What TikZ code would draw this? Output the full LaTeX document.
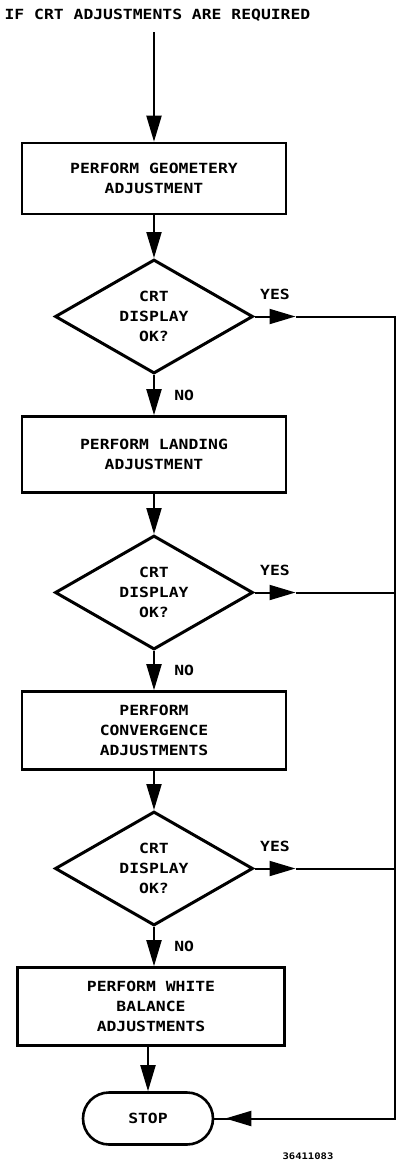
\documentclass[tikz,border=0pt]{standalone}
\usepackage{fontspec}
\setmainfont{DejaVu Sans Mono}[FakeStretch=1.17]
\usetikzlibrary{shapes.geometric,arrows.meta,positioning,calc}

\begin{document}
\begin{tikzpicture}[x=1pt, y=1pt, >={Triangle[length=26pt,width=15pt]}, semithick, node distance=138pt,
  font=\bfseries\fontsize{14}{20}\selectfont]
\tikzstyle{process}=[draw, line width=2.6pt, minimum width=264pt, minimum height=78pt, align=center, inner sep=0pt]
\tikzstyle{decision}=[diamond, draw, line width=3pt, minimum width=198pt, minimum height=114pt, aspect=1.74, align=center, inner sep=0pt]
\tikzstyle{terminal}=[draw, line width=2.6pt, rounded corners=26pt, minimum width=130pt, minimum height=52pt]
\tikzstyle{flowarrow}=[->, line width=2pt]
\tikzstyle{wire}=[line width=2pt]

\useasboundingbox (0,0) rectangle (396,-1163);
\node[anchor=west] (title) at (1,-15) {IF CRT ADJUSTMENTS ARE REQUIRED};
\coordinate (in) at (154,-32);
\coordinate (rt) at (394.5,0);

\node[process, minimum height=71pt] (geo) at (154,-178.5) {PERFORM GEOMETERY\\ADJUSTMENT};
\node[decision] (ok1) [below of=geo]  {CRT\\DISPLAY\\OK?};
\node[process, minimum height=76pt] (land) [below of=ok1] {PERFORM LANDING\\ADJUSTMENT};
\node[decision] (ok2) [below of=land] {CRT\\DISPLAY\\OK?};
\node[process] (conv) [below of=ok2]  {PERFORM\\CONVERGENCE\\ADJUSTMENTS};
\node[decision] (ok3) [below of=conv] {CRT\\DISPLAY\\OK?};
\node[process, minimum width=267pt, xshift=-3pt] (white) [below of=ok3] {PERFORM WHITE\\BALANCE\\ADJUSTMENTS};
\node[terminal, xshift=-3pt, node distance=112pt] (stop) [below of=white] {STOP};

\coordinate (yes1) at ($(ok1.east)+(41,0)$);
\coordinate (yes2) at ($(ok2.east)+(41,0)$);
\coordinate (yes3) at ($(ok3.east)+(41,0)$);
\coordinate (back) at ($(stop.east)+(38,0)$);

\draw[flowarrow] (in) -- (geo.north);
\draw[flowarrow] (geo.south) -- (ok1.north);
\draw[flowarrow] (ok1.south) -- node[right=16pt] {NO} (land.north);
\draw[flowarrow] (land.south) -- (ok2.north);
\draw[flowarrow] (ok2.south) -- node[right=16pt] {NO} (conv.north);
\draw[flowarrow] (conv.south) -- (ok3.north);
\draw[flowarrow] (ok3.south) -- node[right=16pt] {NO} (ok3.south |- white.north);
\draw[flowarrow] (stop.north |- white.south) -- (stop.north);

\draw[flowarrow] (ok1.east) -- node[above=12pt] {YES} (yes1);
\draw[flowarrow] (ok2.east) -- node[above=12pt] {YES} (yes2);
\draw[flowarrow] (ok3.east) -- node[above=12pt] {YES} (yes3);
\draw[wire] (yes1) -- (ok1.east -| rt) -- (stop.east -| rt) -- (stop.east);
\draw[wire] (yes2) -- (ok2.east -| rt);
\draw[wire] (yes3) -- (ok3.east -| rt);
\draw[flowarrow, shorten >=11pt] (back) -- (stop.east);

\node[font=\bfseries\fontsize{9}{10}\selectfont] (code) at (308,-1156) {36411083};
\end{tikzpicture}
\end{document}
